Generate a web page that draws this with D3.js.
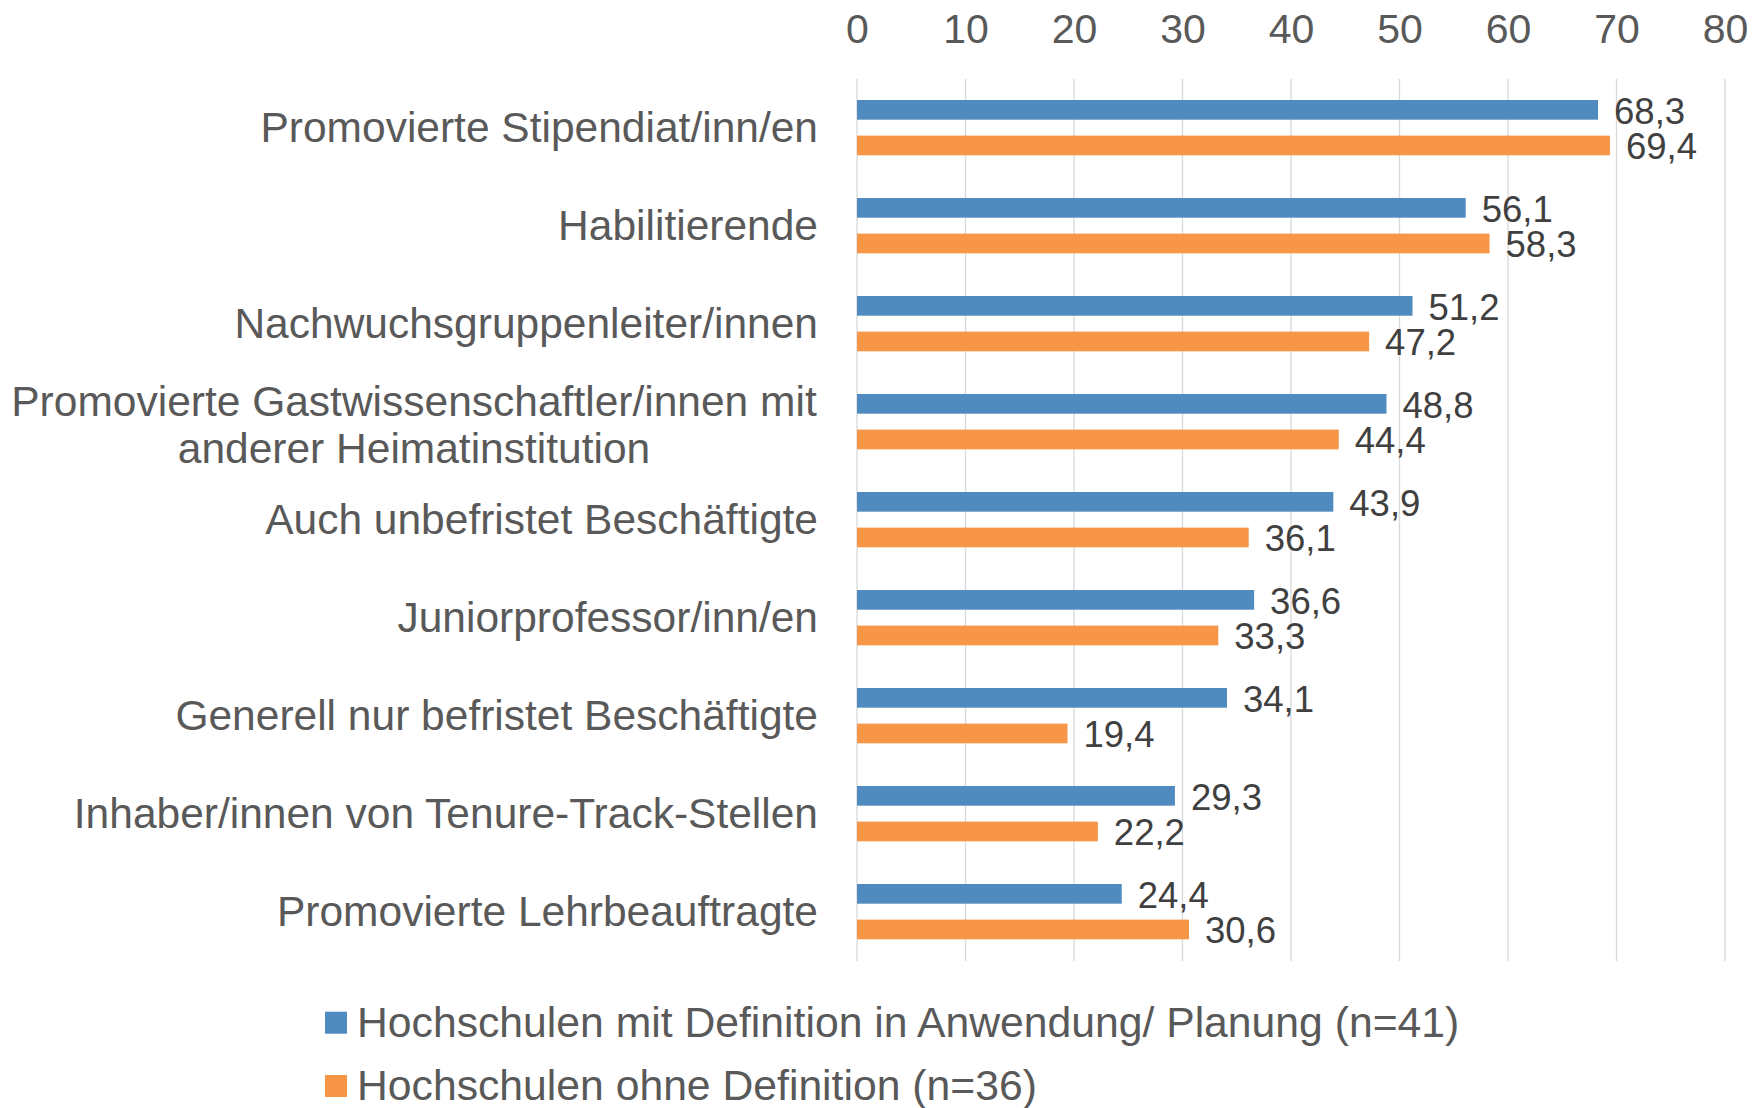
<!DOCTYPE html>
<html>
<head>
<meta charset="utf-8">
<script src="https://cdn.jsdelivr.net/npm/d3@7"></script>
<style>
  body { margin: 0; background: #fff; }
  svg text { font-family: "Liberation Sans", Arimo, Arial, Helvetica, sans-serif; }
  .grid line { stroke: #d9d9d9; stroke-width: 1.3; }
  .cat { fill: #595959; font-size: 42.5px; }
  .tick text { fill: #595959; font-size: 41px; }
  .val { fill: #404040; font-size: 36.5px; }
  .leg { fill: #595959; font-size: 42.7px; }
</style>
</head>
<body>
<div class="chart"></div>
<script>
const categories = [
  ["Promovierte Stipendiat/inn/en"],
  ["Habilitierende"],
  ["Nachwuchsgruppenleiter/innen"],
  ["Promovierte Gastwissenschaftler/innen mit", "anderer Heimatinstitution"],
  ["Auch unbefristet Beschäftigte"],
  ["Juniorprofessor/inn/en"],
  ["Generell nur befristet Beschäftigte"],
  ["Inhaber/innen von Tenure-Track-Stellen"],
  ["Promovierte Lehrbeauftragte"]
]
const seriesNames = [
  "Hochschulen mit Definition in Anwendung/ Planung (n=41)",
  "Hochschulen ohne Definition (n=36)"
]
const withDefinition = [68.3, 56.1, 51.2, 48.8, 43.9, 36.6, 34.1, 29.3, 24.4]
const withoutDefinition = [69.4, 58.3, 47.2, 44.4, 36.1, 33.3, 19.4, 22.2, 30.6]
const xTicks = [0, 10, 20, 30, 40, 50, 60, 70, 80]
const colors = ["#4f8bbf", "#f79646"]

const W = 1763, H = 1108
const svg = d3.select(".chart").append("svg")
  .attr("width", W)
  .attr("height", H)

const x = d3.scaleLinear().domain([0, 80]).range([857, 1725])
const y = d3.scaleBand().domain(d3.range(categories.length)).range([79, 961])
const ySub = d3.scaleBand().domain([0, 1]).range([21, 76.3]).paddingInner(0.447)

// gridlines
svg.append("g")
  .attr("class", "grid")
  .selectAll("line")
  .data(xTicks)
  .enter().append("line")
  .attr("x1", d => x(d)).attr("x2", d => x(d))
  .attr("y1", 79).attr("y2", 961)

// top axis labels
const axis = svg.append("g")
  .attr("transform", "translate(0,43)")
  .call(d3.axisTop(x).tickValues(xTicks).tickSize(0).tickPadding(0))
axis.attr("font-family", null).attr("font-size", null)
axis.select(".domain").remove()
axis.selectAll("text").attr("dy", 0)

// bars
const series = [withDefinition, withoutDefinition]
series.forEach(function(vals, s) {
  const g = svg.append("g")
  g.selectAll("rect")
    .data(vals)
    .enter().append("rect")
    .attr("x", x(0))
    .attr("y", (d, i) => y(i) + ySub(s))
    .attr("width", d => x(d) - x(0))
    .attr("height", ySub.bandwidth())
    .attr("fill", colors[s])

  g.selectAll("text")
    .data(vals)
    .enter().append("text")
    .attr("class", "val")
    .attr("x", d => x(d) + 16)
    .attr("y", (d, i) => y(i) + ySub(s) + ySub.bandwidth() / 2 + 14)
    .text(d => d.toFixed(1).replace(".", ","))
})

// category labels
const cats = svg.append("g")
  .selectAll("text")
  .data(categories)
  .enter().append("text")
  .attr("class", "cat")
  .attr("text-anchor", d => d.length > 1 ? "middle" : "end")
  .attr("x", d => d.length > 1 ? 414 : 818)
  .attr("y", (d, i) => y(i) + y.bandwidth() / 2 + (d.length > 1 ? -6 : 14))

cats.selectAll("tspan")
  .data(d => d)
  .enter().append("tspan")
  .attr("x", function() { return d3.select(this.parentNode).attr("x") })
  .attr("dy", (d, i) => i === 0 ? 0 : 47)
  .text(d => d)

// legend
const legend = svg.append("g")
  .selectAll("g")
  .data(seriesNames)
  .enter().append("g")
  .attr("transform", (d, i) => "translate(325," + (1011.7 + i * 63.3) + ")")

legend.append("rect")
  .attr("width", 22).attr("height", 22)
  .attr("fill", (d, i) => colors[i])

legend.append("text")
  .attr("class", "leg")
  .attr("x", 32)
  .attr("y", 25)
  .text(d => d)
</script>
</body>
</html>
